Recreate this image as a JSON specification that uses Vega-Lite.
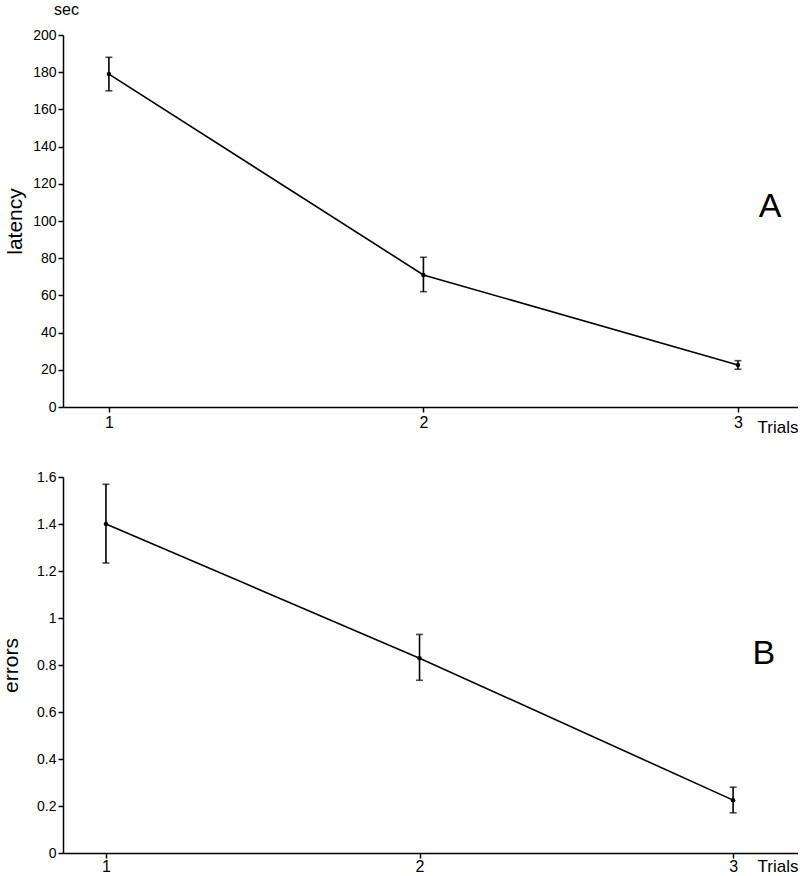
{
  "$schema": "https://vega.github.io/schema/vega-lite/v6.json",
  "background": "white",
  "padding": {"left": 0, "top": 2, "right": 0, "bottom": 0},
  "columns": 1,
  "spacing": 35,
  "config": {
    "font": "Liberation Sans",
    "view": {"stroke": null},
    "axis": {
      "grid": false,
      "domainColor": "black",
      "domainWidth": 1.5,
      "tickColor": "black",
      "tickWidth": 1.5,
      "tickSize": 5,
      "labelColor": "black",
      "labelFontSize": 14,
      "labelPadding": 2,
      "labelOverlap": false,
      "titleColor": "black",
      "titleFontWeight": "normal",
      "titleFontSize": 21
    }
  },
  "datasets": {
    "latency": [
      {"trial": 1, "mean": 179, "lo": 170, "hi": 188},
      {"trial": 2, "mean": 71, "lo": 62, "hi": 80.5},
      {"trial": 3, "mean": 22.6, "lo": 20.3, "hi": 24.9}
    ],
    "errors": [
      {"trial": 1, "mean": 1.40, "lo": 1.234, "hi": 1.569},
      {"trial": 2, "mean": 0.829, "lo": 0.735, "hi": 0.93},
      {"trial": 3, "mean": 0.225, "lo": 0.171, "hi": 0.28}
    ],
    "labelA": [{"trial": 3.102, "mean": 107.4, "label": "A"}],
    "labelB": [{"trial": 3.098, "mean": 0.845, "label": "B"}]
  },
  "concat": [
    {
      "width": 735,
      "height": 372,
      "title": {"text": "sec", "anchor": "start", "frame": "group", "dx": -9, "offset": 10, "fontSize": 16, "fontWeight": "normal", "color": "black"},
      "data": {"name": "latency"},
      "encoding": {
        "x": {
          "field": "trial", "type": "quantitative",
          "scale": {"domain": [0.854, 3.191], "nice": false, "zero": false},
          "axis": {"values": [1, 2, 3], "format": "d", "labelFontSize": 16, "title": "Trials", "titleFontSize": 17, "titleAnchor": "end", "titleAlign": "right", "titleBaseline": "alphabetic", "titleY": 25, "titleX": 735}
        }
      },
      "layer": [
        {
          "mark": {"type": "rule", "color": "black", "strokeWidth": 1.6},
          "encoding": {
            "y": {"field": "lo", "type": "quantitative", "title": "latency",
                  "scale": {"domain": [0, 200], "nice": false},
                  "axis": {"values": [0, 20, 40, 60, 80, 100, 120, 140, 160, 180, 200], "labelOverlap": false, "minExtent": 30, "maxExtent": 30, "titlePadding": 8}},
            "y2": {"field": "hi"}
          }
        },
        {
          "mark": {"type": "tick", "orient": "horizontal", "size": 7, "thickness": 1.6, "color": "black"},
          "encoding": {"y": {"field": "lo", "type": "quantitative", "title": "latency",
                  "axis": {"values": [0, 20, 40, 60, 80, 100, 120, 140, 160, 180, 200], "labelOverlap": false, "minExtent": 30, "maxExtent": 30, "titlePadding": 8}}}
        },
        {
          "mark": {"type": "tick", "orient": "horizontal", "size": 7, "thickness": 1.6, "color": "black"},
          "encoding": {"y": {"field": "hi", "type": "quantitative", "title": "latency",
                  "axis": {"values": [0, 20, 40, 60, 80, 100, 120, 140, 160, 180, 200], "labelOverlap": false, "minExtent": 30, "maxExtent": 30, "titlePadding": 8}}}
        },
        {
          "mark": {"type": "line", "color": "black", "strokeWidth": 1.6, "point": {"filled": true, "size": 20, "color": "black"}},
          "encoding": {"y": {"field": "mean", "type": "quantitative", "title": "latency",
                  "axis": {"values": [0, 20, 40, 60, 80, 100, 120, 140, 160, 180, 200], "labelOverlap": false, "minExtent": 30, "maxExtent": 30, "titlePadding": 8}}}
        },
        {
          "data": {"name": "labelA"},
          "mark": {"type": "text", "fontSize": 34, "color": "black", "align": "center", "baseline": "middle"},
          "encoding": {
            "y": {"field": "mean", "type": "quantitative", "title": "latency",
                  "axis": {"values": [0, 20, 40, 60, 80, 100, 120, 140, 160, 180, 200], "labelOverlap": false, "minExtent": 30, "maxExtent": 30, "titlePadding": 8}},
            "text": {"field": "label"}
          }
        }
      ]
    },
    {
      "width": 735,
      "height": 376,
      "data": {"name": "errors"},
      "encoding": {
        "x": {
          "field": "trial", "type": "quantitative",
          "scale": {"domain": [0.863, 3.207], "nice": false, "zero": false},
          "axis": {"values": [1, 2, 3], "format": "d", "labelFontSize": 16, "labelPadding": 0, "title": "Trials", "titleFontSize": 17, "titleAnchor": "end", "titleAlign": "right", "titleBaseline": "alphabetic", "titleY": 18, "titleX": 735}
        }
      },
      "layer": [
        {
          "mark": {"type": "rule", "color": "black", "strokeWidth": 1.6},
          "encoding": {
            "y": {"field": "lo", "type": "quantitative", "title": "errors",
                  "scale": {"domain": [0, 1.6], "nice": false},
                  "axis": {"values": [0, 0.2, 0.4, 0.6, 0.8, 1, 1.2, 1.4, 1.6], "format": "~g", "labelOverlap": false, "minExtent": 24, "maxExtent": 24, "titlePadding": 18}},
            "y2": {"field": "hi"}
          }
        },
        {
          "mark": {"type": "tick", "orient": "horizontal", "size": 7, "thickness": 1.6, "color": "black"},
          "encoding": {"y": {"field": "lo", "type": "quantitative", "title": "errors",
                  "axis": {"values": [0, 0.2, 0.4, 0.6, 0.8, 1, 1.2, 1.4, 1.6], "format": "~g", "labelOverlap": false, "minExtent": 24, "maxExtent": 24, "titlePadding": 18}}}
        },
        {
          "mark": {"type": "tick", "orient": "horizontal", "size": 7, "thickness": 1.6, "color": "black"},
          "encoding": {"y": {"field": "hi", "type": "quantitative", "title": "errors",
                  "axis": {"values": [0, 0.2, 0.4, 0.6, 0.8, 1, 1.2, 1.4, 1.6], "format": "~g", "labelOverlap": false, "minExtent": 24, "maxExtent": 24, "titlePadding": 18}}}
        },
        {
          "mark": {"type": "line", "color": "black", "strokeWidth": 1.6, "point": {"filled": true, "size": 20, "color": "black"}},
          "encoding": {"y": {"field": "mean", "type": "quantitative", "title": "errors",
                  "axis": {"values": [0, 0.2, 0.4, 0.6, 0.8, 1, 1.2, 1.4, 1.6], "format": "~g", "labelOverlap": false, "minExtent": 24, "maxExtent": 24, "titlePadding": 18}}}
        },
        {
          "data": {"name": "labelB"},
          "mark": {"type": "text", "fontSize": 34, "color": "black", "align": "center", "baseline": "middle"},
          "encoding": {
            "y": {"field": "mean", "type": "quantitative", "title": "errors",
                  "axis": {"values": [0, 0.2, 0.4, 0.6, 0.8, 1, 1.2, 1.4, 1.6], "format": "~g", "labelOverlap": false, "minExtent": 24, "maxExtent": 24, "titlePadding": 18}},
            "text": {"field": "label"}
          }
        }
      ]
    }
  ]
}
